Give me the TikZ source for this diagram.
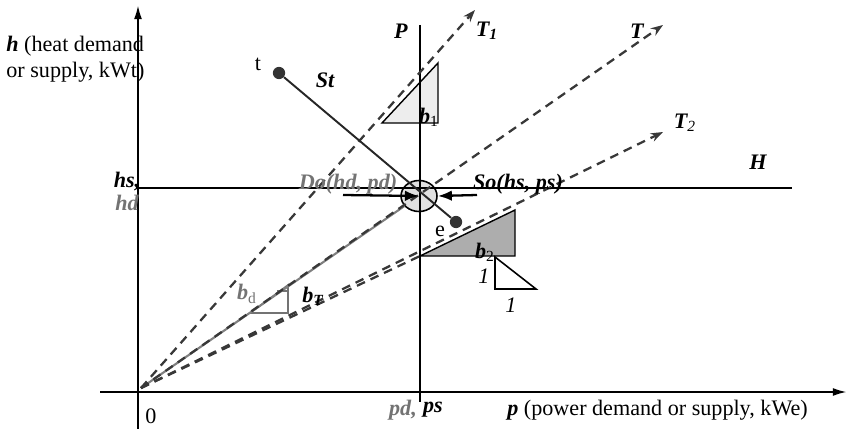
\documentclass[tikz,border=0pt]{standalone}
\usepackage{fontspec}
\setmainfont{Liberation Serif}
\usetikzlibrary{arrows.meta, shapes.geometric}

\begin{document}
\begin{tikzpicture}[
    x=0.02cm, y=-0.02cm,
    axis/.style = {
        line width=1.2pt, -{Latex[length=8pt, width=4.5pt]}
    },
    ray/.style = {
        line width=1.3pt, color=black!78, dash pattern=on 5pt off 3.5pt,
        -{Stealth[length=7pt, width=5pt]}
    },
    push/.style = {
        line width=1.3pt, -{Latex[length=8pt, width=6pt]}
    },
    dot/.style = {
        circle, fill=black!80, inner sep=0pt, minimum size=7pt
    },
    txt/.style = {
        font=\fontsize{12.6}{14.5}\selectfont, inner sep=0pt
    },
    tag/.style = {
        font=\fontsize{12.6}{14.5}\selectfont\bfseries\itshape, inner sep=0pt
    }
]
\useasboundingbox (0,0) rectangle (848,429);

% Origin and ray ends
\coordinate (O)    at (141,388);
\coordinate (T1e)  at (475,10);
\coordinate (Te)   at (663,25);
\coordinate (T2e)  at (663,132);
\coordinate (low)  at (420,256);
\coordinate (doin) at (343,195);
\coordinate (soin) at (477,195);

% Meeting point
\node[ellipse, draw, line width=0.9pt, fill=black!12, minimum width=0.72cm,
      minimum height=0.62cm, inner sep=0pt] (meet) at (419,196) {};

% Slope triangles
\draw[fill=black!7, line width=0.8pt] (382,123) -- (438,63) -- (438,123) -- cycle;
\draw[fill=black!32, line width=0.8pt] (low) -- (515,210) -- (515,256) -- cycle;
\draw[line width=0.9pt] (495,257) -- (495,289) -- (536,289) -- cycle;
\draw[black!55, line width=0.9pt] (250,313) -- (288,285) -- (288,313) -- cycle;
\draw[black!55, line width=0.9pt] (277,291) -- (288,291);

% Axes
\draw[axis] (138,429) -- (138,5);
\draw[axis] (100,392) -- (847,392);
\draw[line width=1.2pt] (420,25) -- (420,402);
\draw[line width=1.2pt] (138,188) -- (792,188);

% Rays from the origin
\draw[black!50, line width=1.2pt] (O) -- (meet);
\draw[ray] (O) -- (T1e);
\draw[ray] (O) -- (Te);
\draw[ray] (O) -- (T2e);
\draw[ray, -] (O) -- (low);

% Path St
\node[dot] (t) at (279,73) {};
\node[dot] (e) at (456,222) {};
\draw[line width=1.1pt, black!85] (t) -- (e);

% Demand and supply arrows
\draw[push] (doin) -- (meet.center);
\draw[push] (soin) -- (meet.east);

% Labels
\node[txt, anchor=north west, align=left] (hlab) at (6,36)
    {\textbf{\textit{h}} (heat demand\\or supply, kWt)};
\node[txt, anchor=west] (plab) at (507,410)
    {\textbf{\textit{p}} (power demand or supply, kWe)};
\node[txt] (zero) at (151,416) {0};
\node[txt] (tlab) at (258,64) {t};
\node[txt] (elab) at (440,231) {e};
\node[tag] (st) at (325,80) {St};
\node[tag] (plin) at (401,31) {P};
\node[tag] (hlin) at (758,162) {H};
\node[tag] (t1) at (487,31) {T\textsubscript{\textit{1}}};
\node[tag] (tt) at (637,31) {T};
\node[tag] (t2) at (685,123) {T\textsubscript{\textnormal{\textit{2}}}};
\node[tag] (hs) at (127,182) {hs,};
\node[tag, black!55] (hd) at (127,203) {hd};
\node[tag, black!55] (pd) at (403,410) {pd,};
\node[tag] (ps) at (433,410) {ps};
\node[tag, black!55] (do) at (348,184) {Do(hd, pd)};
\node[tag] (so) at (518,184) {So(hs, ps)};
\node[tag] (b1) at (429,117) {b\textsubscript{\textnormal{1}}};
\node[tag] (b2) at (485,252) {b\textsubscript{\textnormal{2}}};
\node[tag, black!55] (bd) at (247,294) {b\textsubscript{\textnormal{d}}};
\node[tag] (bt) at (313,296) {b\textsubscript{\textit{T}}};
\node[txt, font=\fontsize{12.6}{14.5}\selectfont\itshape] (one1) at (484,276) {1};
\node[txt, font=\fontsize{12.6}{14.5}\selectfont\itshape] (one2) at (511,305) {1};

\end{tikzpicture}
\end{document}
